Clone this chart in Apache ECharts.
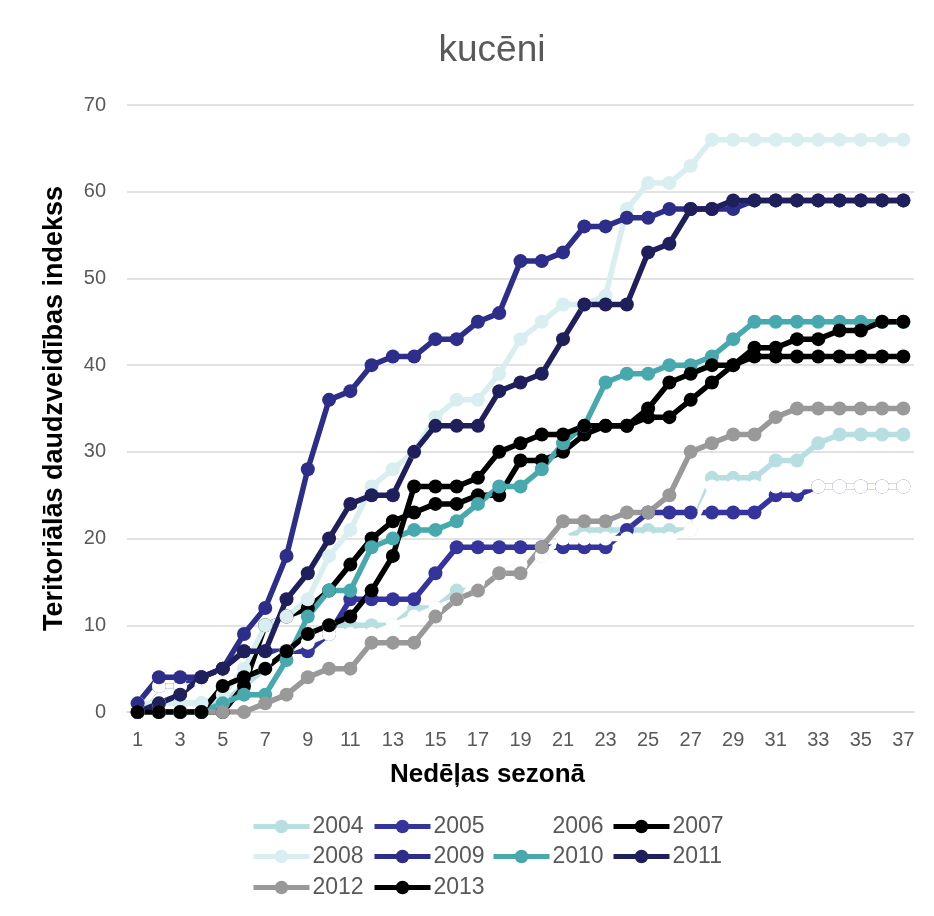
<!DOCTYPE html>
<html lang="lv">
<head>
    <meta charset="utf-8">
    <title>kucēni</title>
    <style>
        html, body { margin: 0; padding: 0; background: #fff; }
        #id-main-area { width: 934px; height: 916px; }
    </style>
</head>
<body>
    <div id="id-main-area"></div>
    <script src="https://cdn.jsdelivr.net/npm/echarts@6/dist/echarts.min.js"></script>
    <script>
        var weeks = ['1','2','3','4','5','6','7','8','9','10','11','12','13','14','15','16','17','18','19',
            '20','21','22','23','24','25','26','27','28','29','30','31','32','33','34','35','36','37']

        var years = ['2004', '2005', '2006', '2007', '2008', '2009', '2010', '2011', '2012', '2013']

        var v2004 = [1,1,1,1,1,3,5,7,9,10,10,10,10,12,12,14,14,16,17,18,20,21,21,21,21,21,21,27,27,27,29,29,31,32,32,32,32]
        var v2005 = [0,3,3,4,5,7,7,7,7,9,13,13,13,13,16,19,19,19,19,19,19,19,19,21,23,23,23,23,23,23,25,25,26,26,26,26,26]
        var v2006 = [0,3,3,3,4,5,6,7,8,9,9,9,10,11,12,13,15,16,17,18,20,20,20,20,20,20,21,26,26,26,26,26,26,26,26,26,26]
        var v2007 = [0,0,0,0,0,3,10,11,12,14,17,20,22,23,24,24,25,25,29,29,30,32,33,33,34,34,36,38,40,41,41,41,41,41,41,41,41]
        var v2008 = [1,1,1,1,2,5,10,11,13,18,21,26,28,30,34,36,36,39,43,45,47,47,48,58,61,61,63,66,66,66,66,66,66,66,66,66,66]
        var v2009 = [1,4,4,4,5,9,12,18,28,36,37,40,41,41,43,43,45,46,52,52,53,56,56,57,57,58,58,58,58,59,59,59,59,59,59,59,59]
        var v2010 = [0,0,0,0,1,2,2,6,11,14,14,19,20,21,21,22,24,26,26,28,31,33,38,39,39,40,40,41,43,45,45,45,45,45,45,45,45]
        var v2011 = [0,1,2,4,5,7,7,13,16,20,24,25,25,30,33,33,33,37,38,39,43,47,47,47,53,54,58,58,59,59,59,59,59,59,59,59,59]
        var v2012 = [0,0,0,0,0,0,1,2,4,5,5,8,8,8,11,13,14,16,16,19,22,22,22,23,23,25,30,31,32,32,34,35,35,35,35,35,35]
        var v2013 = [0,0,0,0,3,4,5,7,9,10,11,14,18,26,26,26,27,30,31,32,32,33,33,33,35,38,39,40,40,42,42,43,43,44,44,45,45]

        var colors = ['#b7dee1', '#34349c', '#ffffff', '#000000', '#d9eef0', '#2d2d8a', '#47a9ae', '#1f1f5c', '#999999', '#000000']

        var font = 'Liberation Sans, Arial, sans-serif'
        var grey = '#595959'

        var makeSeries = () => {
            var values = [v2004, v2005, v2006, v2007, v2008, v2009, v2010, v2011, v2012, v2013]
            var l = []
            for (var i = 0; i < years.length; i++) {
                l.push({
                    name: years[i],
                    type: 'line',
                    data: values[i],
                    symbol: 'circle',
                    symbolSize: 14,
                    showSymbol: true,
                    animation: false,
                    lineStyle: { width: 5.5, color: colors[i] },
                    itemStyle: { color: colors[i] },
                    emphasis: { disabled: true },
                })
            }
            return l
        }

        var makeLegends = () => {
            // 4 columns, 3 rows like the excel legend
            var cols = [251, 372, 491, 611]
            var rows = [815, 845, 876]
            var l = []
            for (var i = 0; i < years.length; i++) {
                l.push({
                    data: [years[i]],
                    left: cols[i % 4],
                    top: rows[Math.floor(i / 4)],
                    padding: 0,
                    itemWidth: 56,
                    itemHeight: 17,
                    itemGap: 3,
                    selectedMode: false,
                    lineStyle: { width: 5 },
                    textStyle: { color: grey, fontSize: 23, fontFamily: font, padding: [0, 0, 0, -2] },
                })
            }
            return l
        }

        var showChart = () => {
            var element = document.querySelector('#id-main-area')
            var myChart = echarts.init(element)
            var option = {
                backgroundColor: '#ffffff',
                animation: false,
                title: {
                    text: 'kucēni',
                    left: 487,
                    top: 27,
                    textAlign: 'center',
                    textStyle: { color: grey, fontSize: 37, fontWeight: 'normal', fontFamily: font },
                },
                legend: makeLegends(),
                grid: { left: 127, right: 20, top: 105, bottom: 204 },
                xAxis: {
                    type: 'category',
                    data: weeks,
                    boundaryGap: true,
                    name: 'Nedēļas sezonā',
                    nameLocation: 'middle',
                    nameGap: 50,
                    nameTextStyle: { color: '#000', fontSize: 26, fontWeight: 'bold', fontFamily: font, padding: [0, 66, 0, 0] },
                    axisLine: { lineStyle: { color: '#d9d9d9', width: 1.5 } },
                    axisTick: { show: false },
                    axisLabel: { interval: 1, color: grey, fontSize: 20, fontFamily: font, margin: 18 },
                },
                yAxis: {
                    type: 'value',
                    min: 0,
                    max: 70,
                    interval: 10,
                    name: 'Teritoriālās daudzveidības indekss',
                    nameLocation: 'middle',
                    nameGap: 59,
                    nameTextStyle: { color: '#000', fontSize: 27, fontWeight: 'bold', fontFamily: font },
                    axisLine: { show: false },
                    axisTick: { show: false },
                    axisLabel: { color: grey, fontSize: 20, fontFamily: font, margin: 21 },
                    splitLine: { lineStyle: { color: '#d9d9d9', width: 1.5 } },
                },
                series: makeSeries(),
            }
            myChart.setOption(option, true)
        }

        var __main = () => {
            showChart()
        }

        __main()
    </script>
</body>
</html>
